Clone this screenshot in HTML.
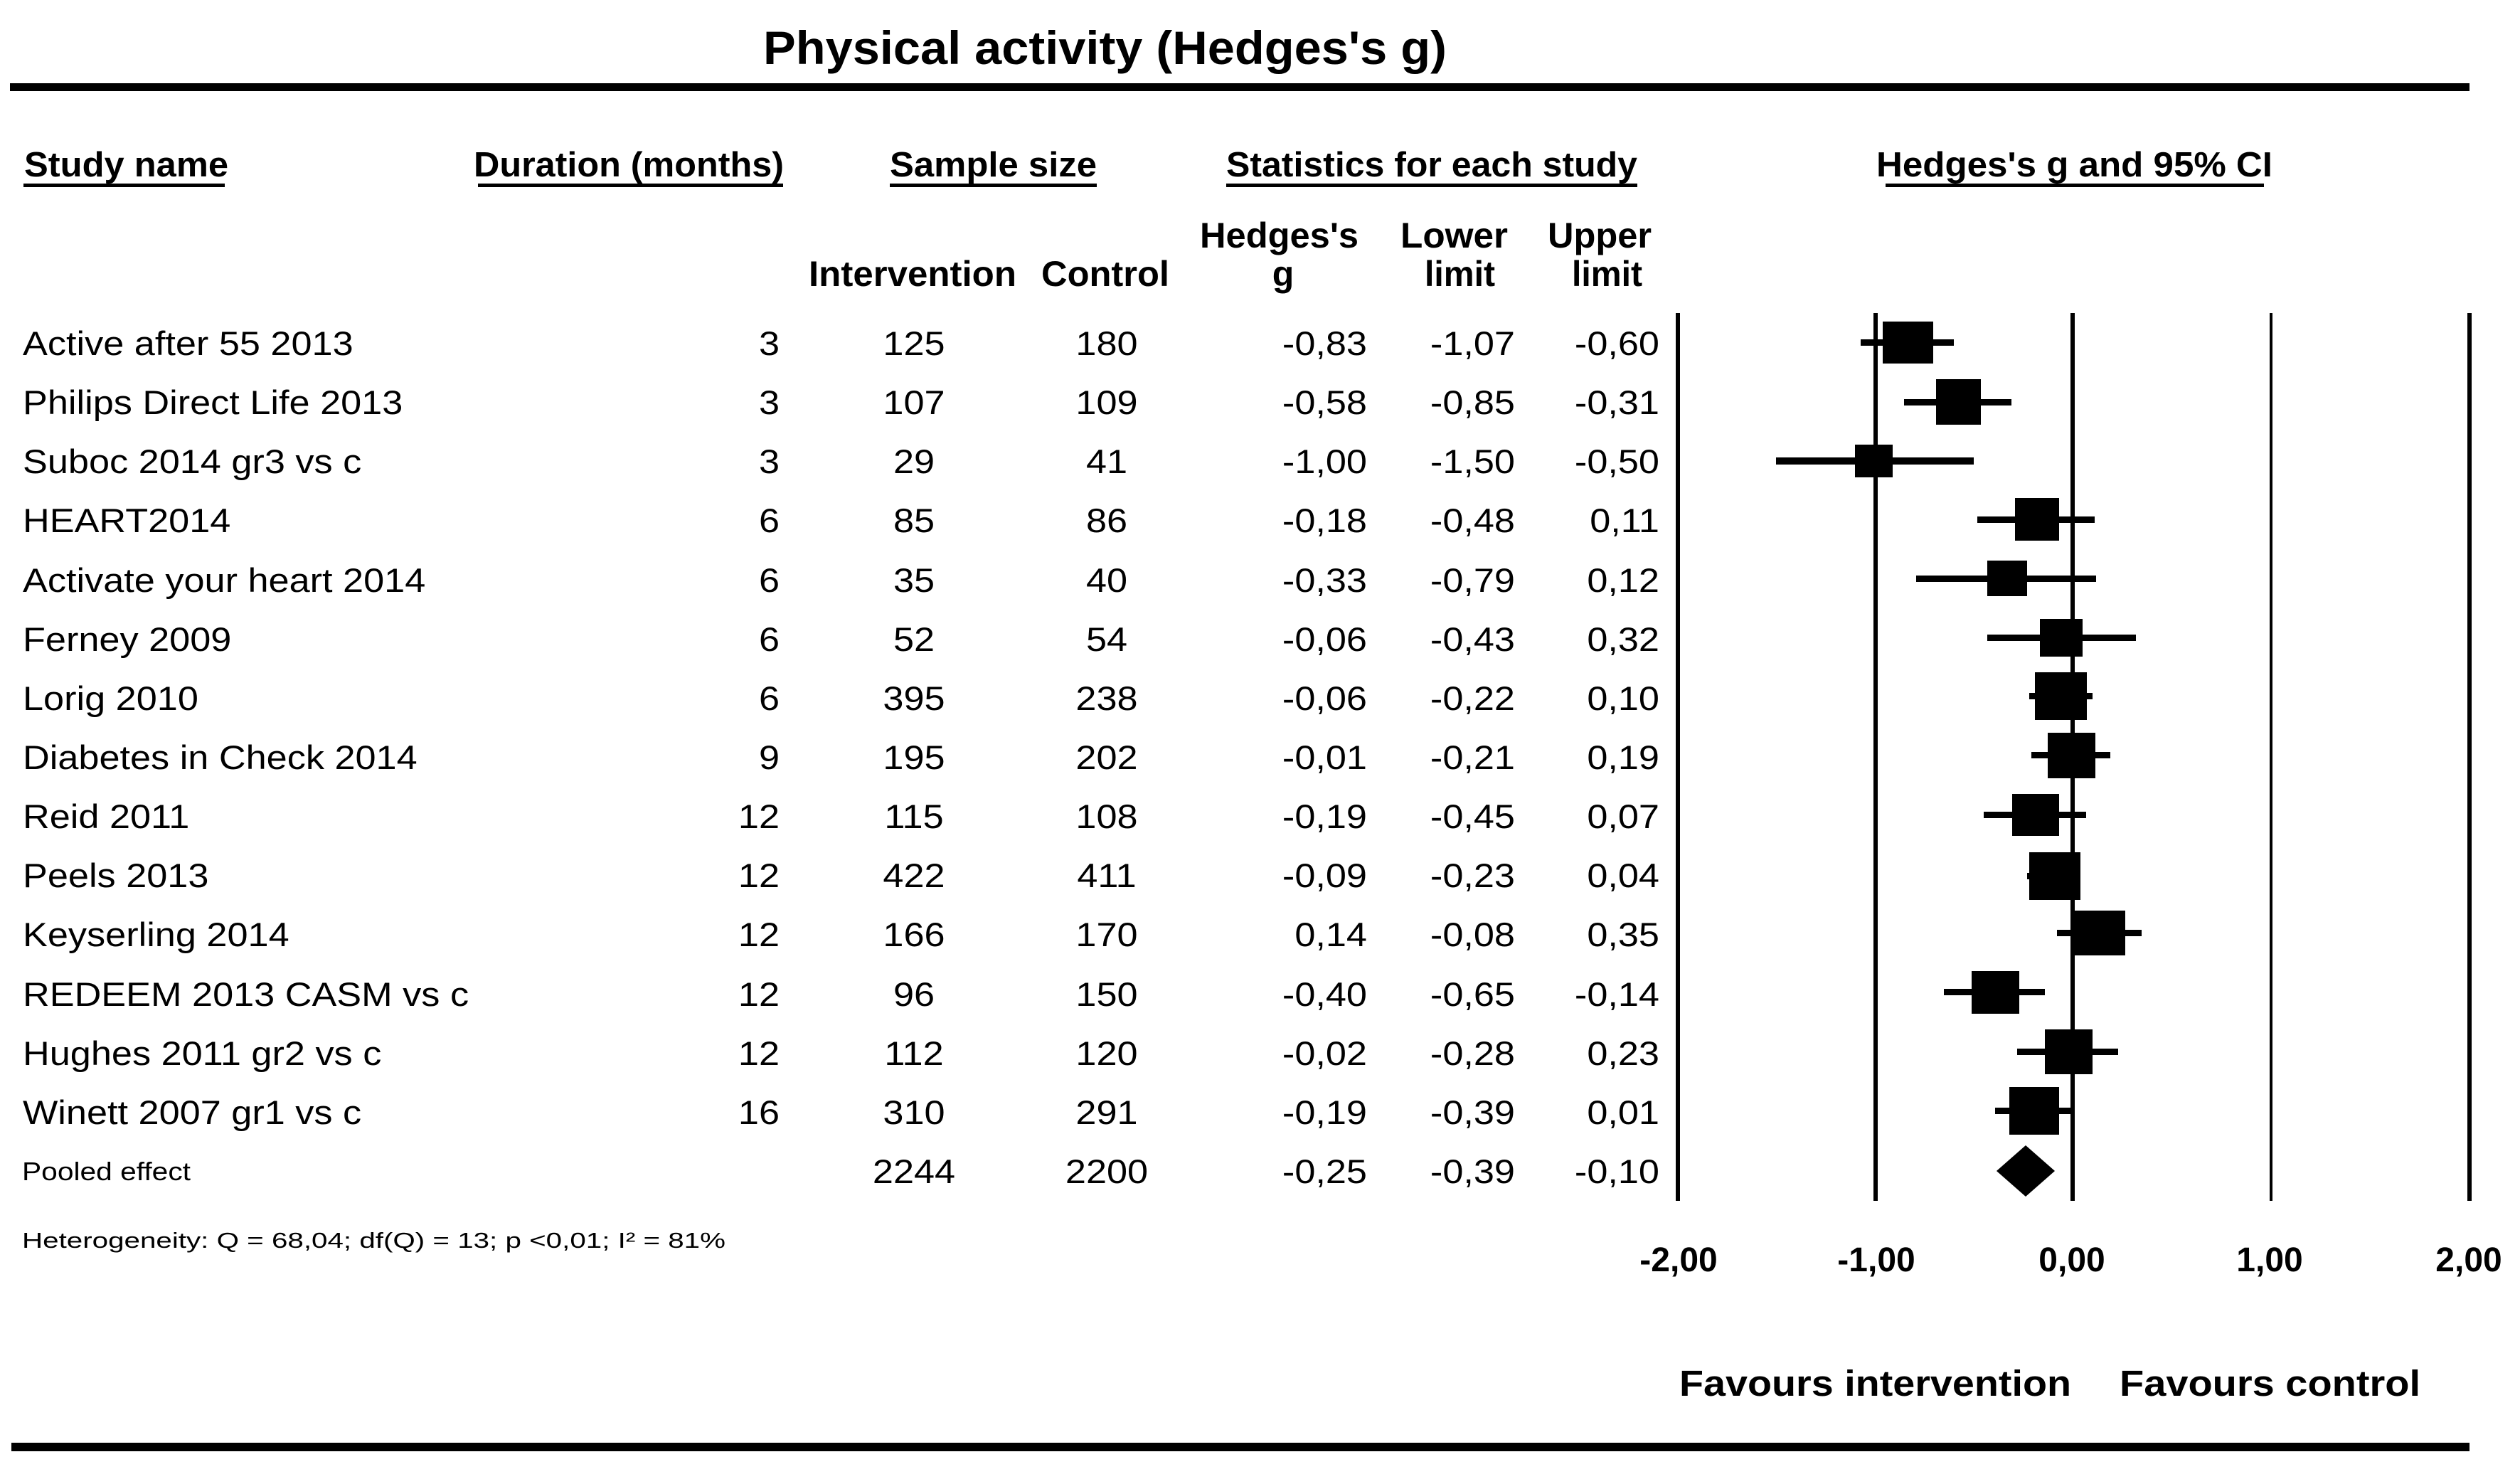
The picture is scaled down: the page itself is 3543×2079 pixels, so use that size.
<!DOCTYPE html>
<html>
<head>
<meta charset="utf-8">
<style>
html,body{margin:0;padding:0;background:#fff;}
svg{display:block;}
text{font-family:"Liberation Sans",Arial,sans-serif;fill:#000;}
.t{font-size:47.5px;}
.h{font-size:49px;font-weight:bold;}
.h2{font-size:50px;font-weight:bold;}
.tk{font-size:48px;font-weight:bold;}
</style>
</head>
<body>
<svg width="3543" height="2079" viewBox="0 0 3543 2079" xmlns="http://www.w3.org/2000/svg">
<rect x="0" y="0" width="3543" height="2079" fill="#fff"/>

<!-- Title -->
<text x="1073" y="90" style="font-size:66px;font-weight:bold" textLength="961" lengthAdjust="spacingAndGlyphs">Physical activity (Hedges's g)</text>
<rect x="14" y="117" width="3458" height="11" fill="#000"/>

<!-- Header row 1 -->
<text class="h" x="34" y="248" textLength="287" lengthAdjust="spacingAndGlyphs">Study name</text>
<rect x="33" y="258" width="283" height="5" fill="#000"/>
<text class="h" x="666" y="248" textLength="436" lengthAdjust="spacingAndGlyphs">Duration (months)</text>
<rect x="672" y="258" width="429" height="5" fill="#000"/>
<text class="h" x="1251" y="248" textLength="291" lengthAdjust="spacingAndGlyphs">Sample size</text>
<rect x="1251" y="258" width="291" height="5" fill="#000"/>
<text class="h" x="1724" y="248" textLength="578" lengthAdjust="spacingAndGlyphs">Statistics for each study</text>
<rect x="1724" y="258" width="578" height="5" fill="#000"/>
<text class="h" x="2638" y="248" textLength="557" lengthAdjust="spacingAndGlyphs">Hedges's g and 95% CI</text>
<rect x="2651" y="258" width="532" height="5" fill="#000"/>

<!-- Header row 2 -->
<text class="h2" x="1687" y="348" textLength="223" lengthAdjust="spacingAndGlyphs">Hedges's</text>
<text class="h2" x="1969" y="348" textLength="151" lengthAdjust="spacingAndGlyphs">Lower</text>
<text class="h2" x="2176" y="348" textLength="146" lengthAdjust="spacingAndGlyphs">Upper</text>
<text class="h2" x="1137" y="402" textLength="292" lengthAdjust="spacingAndGlyphs">Intervention</text>
<text class="h2" x="1464" y="402" textLength="180" lengthAdjust="spacingAndGlyphs">Control</text>
<text class="h2" x="1804" y="402" text-anchor="middle">g</text>
<text class="h2" x="2003" y="402" textLength="99" lengthAdjust="spacingAndGlyphs">limit</text>
<text class="h2" x="2210" y="402" textLength="99" lengthAdjust="spacingAndGlyphs">limit</text>

<!-- Study names -->
<g class="t">
<text transform="translate(32,499) scale(1.1,1)">Active after 55 2013</text>
<text transform="translate(32,582) scale(1.1,1)">Philips Direct Life 2013</text>
<text transform="translate(32,665) scale(1.1,1)">Suboc 2014 gr3 vs c</text>
<text transform="translate(32,748) scale(1.1,1)">HEART2014</text>
<text transform="translate(32,832) scale(1.1,1)">Activate your heart 2014</text>
<text transform="translate(32,915) scale(1.1,1)">Ferney 2009</text>
<text transform="translate(32,998) scale(1.1,1)">Lorig 2010</text>
<text transform="translate(32,1081) scale(1.1,1)">Diabetes in Check 2014</text>
<text transform="translate(32,1164) scale(1.1,1)">Reid 2011</text>
<text transform="translate(32,1247) scale(1.1,1)">Peels 2013</text>
<text transform="translate(32,1330) scale(1.1,1)">Keyserling 2014</text>
<text transform="translate(32,1414) scale(1.1,1)">REDEEM 2013 CASM vs c</text>
<text transform="translate(32,1497) scale(1.1,1)">Hughes 2011 gr2 vs c</text>
<text transform="translate(32,1580) scale(1.1,1)">Winett 2007 gr1 vs c</text>
</g>
<text x="31" y="1659" style="font-size:36px" textLength="237" lengthAdjust="spacingAndGlyphs">Pooled effect</text>

<!-- Duration -->
<g class="t" text-anchor="end">
<text transform="translate(1096,499) scale(1.1,1)">3</text>
<text transform="translate(1096,582) scale(1.1,1)">3</text>
<text transform="translate(1096,665) scale(1.1,1)">3</text>
<text transform="translate(1096,748) scale(1.1,1)">6</text>
<text transform="translate(1096,832) scale(1.1,1)">6</text>
<text transform="translate(1096,915) scale(1.1,1)">6</text>
<text transform="translate(1096,998) scale(1.1,1)">6</text>
<text transform="translate(1096,1081) scale(1.1,1)">9</text>
<text transform="translate(1096,1164) scale(1.1,1)">12</text>
<text transform="translate(1096,1247) scale(1.1,1)">12</text>
<text transform="translate(1096,1330) scale(1.1,1)">12</text>
<text transform="translate(1096,1414) scale(1.1,1)">12</text>
<text transform="translate(1096,1497) scale(1.1,1)">12</text>
<text transform="translate(1096,1580) scale(1.1,1)">16</text>
</g>

<!-- Intervention -->
<g class="t" text-anchor="middle">
<text transform="translate(1285,499) scale(1.1,1)">125</text>
<text transform="translate(1285,582) scale(1.1,1)">107</text>
<text transform="translate(1285,665) scale(1.1,1)">29</text>
<text transform="translate(1285,748) scale(1.1,1)">85</text>
<text transform="translate(1285,832) scale(1.1,1)">35</text>
<text transform="translate(1285,915) scale(1.1,1)">52</text>
<text transform="translate(1285,998) scale(1.1,1)">395</text>
<text transform="translate(1285,1081) scale(1.1,1)">195</text>
<text transform="translate(1285,1164) scale(1.1,1)">115</text>
<text transform="translate(1285,1247) scale(1.1,1)">422</text>
<text transform="translate(1285,1330) scale(1.1,1)">166</text>
<text transform="translate(1285,1414) scale(1.1,1)">96</text>
<text transform="translate(1285,1497) scale(1.1,1)">112</text>
<text transform="translate(1285,1580) scale(1.1,1)">310</text>
<text transform="translate(1285,1663) scale(1.1,1)">2244</text>
</g>

<!-- Control -->
<g class="t" text-anchor="middle">
<text transform="translate(1556,499) scale(1.1,1)">180</text>
<text transform="translate(1556,582) scale(1.1,1)">109</text>
<text transform="translate(1556,665) scale(1.1,1)">41</text>
<text transform="translate(1556,748) scale(1.1,1)">86</text>
<text transform="translate(1556,832) scale(1.1,1)">40</text>
<text transform="translate(1556,915) scale(1.1,1)">54</text>
<text transform="translate(1556,998) scale(1.1,1)">238</text>
<text transform="translate(1556,1081) scale(1.1,1)">202</text>
<text transform="translate(1556,1164) scale(1.1,1)">108</text>
<text transform="translate(1556,1247) scale(1.1,1)">411</text>
<text transform="translate(1556,1330) scale(1.1,1)">170</text>
<text transform="translate(1556,1414) scale(1.1,1)">150</text>
<text transform="translate(1556,1497) scale(1.1,1)">120</text>
<text transform="translate(1556,1580) scale(1.1,1)">291</text>
<text transform="translate(1556,1663) scale(1.1,1)">2200</text>
</g>

<!-- Hedges's g -->
<g class="t" text-anchor="end">
<text transform="translate(1922,499) scale(1.1,1)">-0,83</text>
<text transform="translate(1922,582) scale(1.1,1)">-0,58</text>
<text transform="translate(1922,665) scale(1.1,1)">-1,00</text>
<text transform="translate(1922,748) scale(1.1,1)">-0,18</text>
<text transform="translate(1922,832) scale(1.1,1)">-0,33</text>
<text transform="translate(1922,915) scale(1.1,1)">-0,06</text>
<text transform="translate(1922,998) scale(1.1,1)">-0,06</text>
<text transform="translate(1922,1081) scale(1.1,1)">-0,01</text>
<text transform="translate(1922,1164) scale(1.1,1)">-0,19</text>
<text transform="translate(1922,1247) scale(1.1,1)">-0,09</text>
<text transform="translate(1922,1330) scale(1.1,1)">0,14</text>
<text transform="translate(1922,1414) scale(1.1,1)">-0,40</text>
<text transform="translate(1922,1497) scale(1.1,1)">-0,02</text>
<text transform="translate(1922,1580) scale(1.1,1)">-0,19</text>
<text transform="translate(1922,1663) scale(1.1,1)">-0,25</text>
</g>

<!-- Lower limit -->
<g class="t" text-anchor="end">
<text transform="translate(2130,499) scale(1.1,1)">-1,07</text>
<text transform="translate(2130,582) scale(1.1,1)">-0,85</text>
<text transform="translate(2130,665) scale(1.1,1)">-1,50</text>
<text transform="translate(2130,748) scale(1.1,1)">-0,48</text>
<text transform="translate(2130,832) scale(1.1,1)">-0,79</text>
<text transform="translate(2130,915) scale(1.1,1)">-0,43</text>
<text transform="translate(2130,998) scale(1.1,1)">-0,22</text>
<text transform="translate(2130,1081) scale(1.1,1)">-0,21</text>
<text transform="translate(2130,1164) scale(1.1,1)">-0,45</text>
<text transform="translate(2130,1247) scale(1.1,1)">-0,23</text>
<text transform="translate(2130,1330) scale(1.1,1)">-0,08</text>
<text transform="translate(2130,1414) scale(1.1,1)">-0,65</text>
<text transform="translate(2130,1497) scale(1.1,1)">-0,28</text>
<text transform="translate(2130,1580) scale(1.1,1)">-0,39</text>
<text transform="translate(2130,1663) scale(1.1,1)">-0,39</text>
</g>

<!-- Upper limit -->
<g class="t" text-anchor="end">
<text transform="translate(2333,499) scale(1.1,1)">-0,60</text>
<text transform="translate(2333,582) scale(1.1,1)">-0,31</text>
<text transform="translate(2333,665) scale(1.1,1)">-0,50</text>
<text transform="translate(2333,748) scale(1.1,1)">0,11</text>
<text transform="translate(2333,832) scale(1.1,1)">0,12</text>
<text transform="translate(2333,915) scale(1.1,1)">0,32</text>
<text transform="translate(2333,998) scale(1.1,1)">0,10</text>
<text transform="translate(2333,1081) scale(1.1,1)">0,19</text>
<text transform="translate(2333,1164) scale(1.1,1)">0,07</text>
<text transform="translate(2333,1247) scale(1.1,1)">0,04</text>
<text transform="translate(2333,1330) scale(1.1,1)">0,35</text>
<text transform="translate(2333,1414) scale(1.1,1)">-0,14</text>
<text transform="translate(2333,1497) scale(1.1,1)">0,23</text>
<text transform="translate(2333,1580) scale(1.1,1)">0,01</text>
<text transform="translate(2333,1663) scale(1.1,1)">-0,10</text>
</g>

<!-- Heterogeneity -->
<text x="31" y="1754" style="font-size:31px" textLength="989" lengthAdjust="spacingAndGlyphs">Heterogeneity: Q = 68,04; df(Q) = 13; p &lt;0,01; I² = 81%</text>

<!-- Axis vertical lines -->
<rect x="2356" y="440" width="6" height="1248" fill="#000"/>
<rect x="2634" y="440" width="6" height="1248" fill="#000"/>
<rect x="2911" y="440" width="6" height="1248" fill="#000"/>
<rect x="3191" y="440" width="4" height="1248" fill="#000"/>
<rect x="3469" y="440" width="6" height="1248" fill="#000"/>

<!-- Whiskers -->
<g fill="#000">
<rect x="2616" y="477" width="131" height="9"/>
<rect x="2677" y="561" width="151" height="9"/>
<rect x="2497" y="643" width="278" height="10"/>
<rect x="2780" y="726" width="165" height="9"/>
<rect x="2694" y="809" width="253" height="9"/>
<rect x="2794" y="892" width="209" height="9"/>
<rect x="2853" y="974" width="89" height="9"/>
<rect x="2856" y="1057" width="111" height="9"/>
<rect x="2789" y="1141" width="144" height="9"/>
<rect x="2850" y="1227" width="75" height="9"/>
<rect x="2892" y="1307" width="119" height="9"/>
<rect x="2733" y="1390" width="142" height="9"/>
<rect x="2836" y="1474" width="142" height="9"/>
<rect x="2805" y="1557" width="112" height="9"/>
</g>

<!-- Squares -->
<g fill="#000">
<rect x="2647" y="452" width="71" height="59"/>
<rect x="2722" y="533" width="63" height="64"/>
<rect x="2608" y="625" width="53" height="46"/>
<rect x="2833" y="700" width="62" height="60"/>
<rect x="2794" y="788" width="56" height="50"/>
<rect x="2868" y="870" width="60" height="53"/>
<rect x="2861" y="945" width="73" height="67"/>
<rect x="2879" y="1030" width="67" height="64"/>
<rect x="2829" y="1116" width="66" height="59"/>
<rect x="2853" y="1198" width="72" height="67"/>
<rect x="2912" y="1280" width="76" height="63"/>
<rect x="2772" y="1365" width="67" height="60"/>
<rect x="2875" y="1447" width="67" height="63"/>
<rect x="2825" y="1528" width="70" height="67"/>
</g>

<!-- Diamond -->
<polygon points="2807,1646 2848,1610 2889,1646 2848,1682" fill="#000"/>

<!-- Tick labels -->
<g class="tk" text-anchor="middle">
<text x="2360" y="1787">-2,00</text>
<text x="2638" y="1787">-1,00</text>
<text x="2913" y="1787">0,00</text>
<text x="3191" y="1787">1,00</text>
<text x="3471" y="1787">2,00</text>
</g>

<!-- Favours -->
<text x="2361" y="1962" style="font-size:51px;font-weight:bold" textLength="551" lengthAdjust="spacingAndGlyphs">Favours intervention</text>
<text x="2980" y="1962" style="font-size:51px;font-weight:bold" textLength="423" lengthAdjust="spacingAndGlyphs">Favours control</text>

<!-- Bottom rule -->
<rect x="16" y="2028" width="3456" height="12" fill="#000"/>
</svg>
</body>
</html>
